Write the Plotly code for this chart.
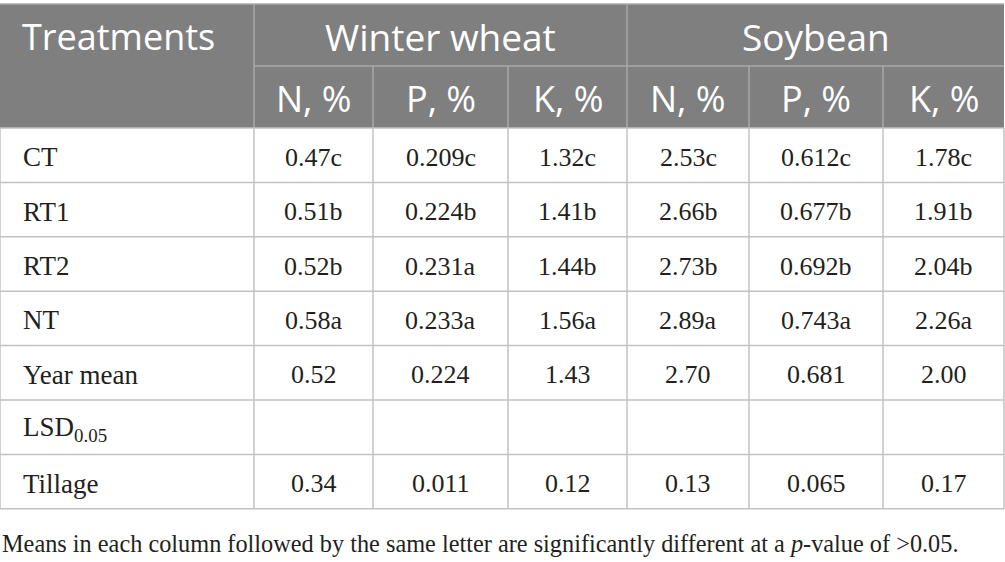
import plotly.graph_objects as go

# table content
crops = ["Winter wheat", "Soybean"]
nutrients = ["N, %", "P, %", "K, %"]
treatments = ["CT", "RT1", "RT2", "NT", "Year mean", "LSD<sub>0.05</sub>", "Tillage"]
wheat_n = ["0.47c", "0.51b", "0.52b", "0.58a", "0.52", "", "0.34"]
wheat_p = ["0.209c", "0.224b", "0.231a", "0.233a", "0.224", "", "0.011"]
wheat_k = ["1.32c", "1.41b", "1.44b", "1.56a", "1.43", "", "0.12"]
soy_n = ["2.53c", "2.66b", "2.73b", "2.89a", "2.70", "", "0.13"]
soy_p = ["0.612c", "0.677b", "0.692b", "0.743a", "0.681", "", "0.065"]
soy_k = ["1.78c", "1.91b", "2.04b", "2.26a", "2.00", "", "0.17"]
footnote = ("Means in each column followed by the same letter are significantly "
            "different at a <i>p</i>-value of &gt;0.05.")

# layout of the grid (pixels)
col_edges = [0, 254, 373, 508, 627, 749, 883, 1004]
head_edges = [4, 66, 128]
row_h = 54.4

HEAD_FILL = "#7f7f7f"
HEAD_LINE = "#a8a8a8"
BODY_LINE = "#c2c2c2"
TEXT = "#231f20"
SANS = "Open Sans"
SERIF = "Liberation Serif"

fig = go.Figure()
shapes = []
annots = []

n_rows = len(treatments)
row_edges = [head_edges[-1] + i * row_h for i in range(n_rows + 1)]
left, right = col_edges[0], col_edges[-1]

# header background
shapes.append(dict(type="rect", x0=left, x1=right, y0=head_edges[0], y1=head_edges[-1],
                   fillcolor=HEAD_FILL, line=dict(width=0), layer="below"))
# header lines
shapes.append(dict(type="line", x0=left, x1=right, y0=head_edges[0], y1=head_edges[0],
                   line=dict(color=HEAD_LINE, width=1.5)))
shapes.append(dict(type="line", x0=col_edges[1], x1=right, y0=head_edges[1], y1=head_edges[1],
                   line=dict(color=HEAD_LINE, width=1.5)))
for x in [col_edges[1], col_edges[4]]:
    shapes.append(dict(type="line", x0=x, x1=x, y0=head_edges[0], y1=head_edges[2],
                       line=dict(color=HEAD_LINE, width=1.5)))
for x in col_edges[2:4] + col_edges[5:7]:
    shapes.append(dict(type="line", x0=x, x1=x, y0=head_edges[1], y1=head_edges[2],
                       line=dict(color=HEAD_LINE, width=1.5)))

# body grid
for y in row_edges:
    shapes.append(dict(type="line", x0=left, x1=right, y0=y, y1=y,
                       line=dict(color=BODY_LINE, width=1.5)))
for x in col_edges:
    shapes.append(dict(type="line", x0=x, x1=x, y0=row_edges[0], y1=row_edges[-1],
                       line=dict(color=BODY_LINE, width=1.5)))

# header text
annots.append(dict(x=20, y=(head_edges[0] + head_edges[1]) / 2 + 1, text="Treatments",
                   xanchor="left", font=dict(family=SANS, size=36, color="white")))
for i, crop in enumerate(crops):
    x0, x1 = col_edges[1 + 3 * i], col_edges[4 + 3 * i]
    annots.append(dict(x=(x0 + x1) / 2, y=(head_edges[0] + head_edges[1]) / 2 + 1, text=crop,
                       font=dict(family=SANS, size=37, color="white")))
    for j, nut in enumerate(nutrients):
        c = 1 + 3 * i + j
        annots.append(dict(x=(col_edges[c] + col_edges[c + 1]) / 2,
                           y=(head_edges[1] + head_edges[2]) / 2 + 1, text=nut,
                           font=dict(family=SANS, size=36, color="white")))

# body text
columns = [wheat_n, wheat_p, wheat_k, soy_n, soy_p, soy_k]
for r, name in enumerate(treatments):
    yc = (row_edges[r] + row_edges[r + 1]) / 2 + 2
    annots.append(dict(x=21, y=yc, text=name, xanchor="left",
                       font=dict(family=SERIF, size=27, color=TEXT)))
    for c, col in enumerate(columns):
        if col[r]:
            annots.append(dict(x=(col_edges[c + 1] + col_edges[c + 2]) / 2, y=yc, text=col[r],
                               font=dict(family=SERIF, size=26, color=TEXT)))

annots.append(dict(x=0, y=543, text=footnote, xanchor="left",
                   font=dict(family=SERIF, size=24.3, color=TEXT)))

for a in annots:
    a.update(xref="x", yref="y", showarrow=False, yanchor="middle")

fig.update_layout(
    width=1005, height=562,
    margin=dict(l=0, r=0, t=0, b=0),
    paper_bgcolor="white", plot_bgcolor="white",
    xaxis=dict(range=[0, 1005], visible=False, fixedrange=True),
    yaxis=dict(range=[562, 0], visible=False, fixedrange=True),
    shapes=shapes, annotations=annots, showlegend=False,
)

# drop the default page margin so the table sits at the window's corner
fig.write_html("out.html", config={"displayModeBar": False},
               post_script="document.body.style.margin='0';")
